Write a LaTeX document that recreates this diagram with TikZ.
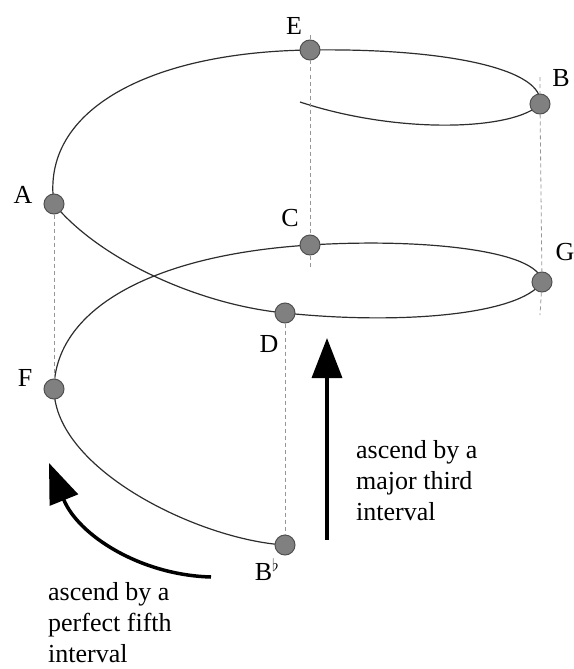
\documentclass[tikz,border=0pt]{standalone}
\usepackage{fontspec}
\setmainfont{Liberation Serif}
\usepackage{amsmath,amssymb}
\usetikzlibrary{arrows.meta,positioning}
\definecolor{dotgray}{RGB}{128,128,128}
\definecolor{dotedge}{RGB}{80,80,80}
\definecolor{spiralgray}{RGB}{45,45,45}
\definecolor{guidegray}{RGB}{150,150,150}

\begin{document}
\begin{tikzpicture}[x=1pt,y=-1pt,
  dot/.style={circle,fill=dotgray,draw=dotedge,line width=1pt,inner sep=0pt,minimum size=20pt},
  note/.style={font=\fontsize{26}{31}\selectfont,inner sep=0pt},
  guide/.style={guidegray,line width=0.8pt,dash pattern=on 4pt off 3pt},
  spiral/.style={spiralgray,line width=1.2pt},
  bigarrow/.style={line width=3.5pt,-{Triangle[length=40pt,width=30pt]}}]
\useasboundingbox (0,0) rectangle (573,669);
\foreach \n/\x/\y in {E/310/50,B/540/104,A/54/204,C/310/245,G/542/282,D/285/313,F/54/389,Bb/285/545}
  \coordinate (p\n) at (\x,\y);
\coordinate (start) at (300,102);
% the spiral, inner end first
\draw[spiral] (start) .. controls (400,135) and (515,130) .. (pB)
  .. controls (545,70) and (450,48) .. (pE)
  .. controls (150,52) and (40,110) .. (pA)
  .. controls (100,260) and (200,305) .. (pD)
  .. controls (400,325) and (520,315) .. (pG)
  .. controls (540,250) and (420,238) .. (pC)
  .. controls (150,255) and (55,310) .. (pF)
  .. controls (55,470) and (200,540) .. (pBb);
\coordinate (Etop) at (310,35);
\coordinate (Cfoot) at (310,268);
\coordinate (Btop) at (540,77);
\coordinate (Gfoot) at (540,315);
\foreach \n in {E,B,A,C,G,D,F,Bb} \node[dot] (\n) at (p\n) {};
\draw[guide] (Etop) -- (E) (E) -- (C) (C) -- (Cfoot);
\draw[guide] (Btop) -- (B) (B) -- (G) (G) -- (Gfoot);
\draw[guide] (A) -- (F);
\draw[guide] (D) -- (Bb);
\node[note] (lE) at (294,26) {E};
\node[note] (lB) at (561,78) {B};
\node[note] (lA) at (23,195) {A};
\node[note] (lC) at (290,218) {C};
\node[note] (lG) at (565,252) {G};
\node[note] (lD) at (269,344) {D};
\node[note] (lF) at (25,378) {F};
\node[note] (lBb) at (267,570) {B$^{\flat}$};
\coordinate (thirdfoot) at (327,540);
\coordinate (thirdtip) at (327,338);
\draw[bigarrow] (thirdfoot) -- (thirdtip);
\coordinate (fifthfoot) at (211,577);
\coordinate (fifthtip) at (49,463);
\draw[bigarrow] (fifthfoot) .. controls (140,575) and (78,535) .. (fifthtip);
\node[note,anchor=north west,align=left] (third) at (356,440) {ascend by a\\major third\\interval};
\node[note,anchor=north west,align=left] (fifth) at (48,582) {ascend by a\\perfect fifth\\interval};
\end{tikzpicture}
\end{document}
